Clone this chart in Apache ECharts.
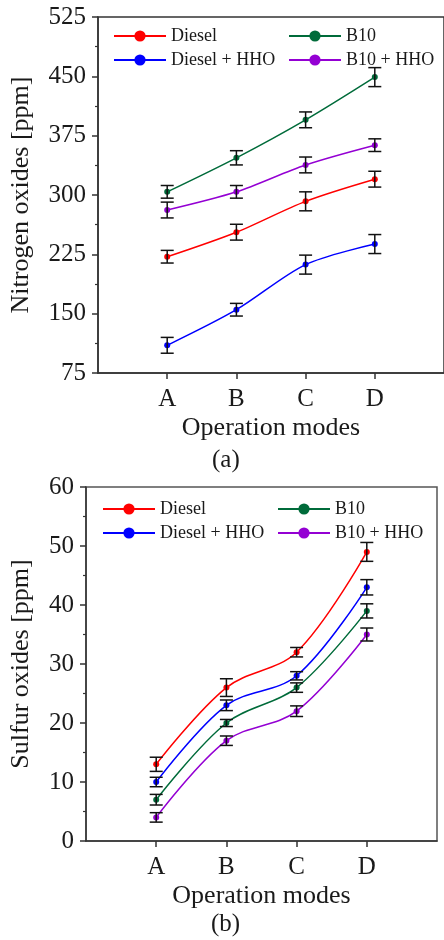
<!DOCTYPE html>
<html>
<head>
<meta charset="utf-8">
<script src="https://cdn.jsdelivr.net/npm/echarts@6/dist/echarts.min.js"></script>
<style>
  html, body { margin: 0; padding: 0; background: #fff; }
  #grafica { width: 444px; height: 940px; }
</style>
</head>
<body>
<div id="grafica"></div>
<script>
// categorias del eje x
var categorias = ['A', 'B', 'C', 'D'];
var nombres = ['Diesel', 'B10', 'Diesel + HHO', 'B10 + HHO'];
var colores = ['#ff0000', '#006b3a', '#0000ff', '#9400d3'];

// (a) oxidos de nitrogeno
var noxDiesel = [222, 253, 292, 320];
var noxDieselErr = [8, 10, 12, 10];
var noxB10 = [304, 347, 395, 449];
var noxB10Err = [8, 9, 10, 12];
var noxDieselHHO = [110, 155, 212, 238];
var noxDieselHHOErr = [10, 8, 12, 12];
var noxB10HHO = [281, 304, 338, 363];
var noxB10HHOErr = [10, 8, 10, 8];
var noxTicks = [75, 150, 225, 300, 375, 450, 525];

// (b) oxidos de azufre
var soxDiesel = [13, 26, 32, 49];
var soxDieselErr = [1.2, 1.5, 0.8, 1.6];
var soxB10 = [7, 20, 26, 39];
var soxB10Err = [0.9, 0.6, 0.8, 1.2];
var soxDieselHHO = [10, 23, 28, 43];
var soxDieselHHOErr = [0.8, 0.9, 0.7, 1.3];
var soxB10HHO = [4, 17, 22, 35];
var soxB10HHOErr = [0.8, 0.8, 0.9, 1.1];
var soxTicks = [0, 10, 20, 30, 40, 50, 60];

var fuente = "'Liberation Serif', 'Times New Roman', serif";
var negro = '#1a1a1a';

function puntos(valores) {
    return valores.map(function (v, i) { return [i + 1, v]; });
}

function barras(valores, errores) {
    return valores.map(function (v, i) { return [i + 1, v, errores[i]]; });
}

//barra de error con sus topes
function dibujarError(params, api) {
    var x = api.value(0), y = api.value(1), e = api.value(2);
    var arriba = api.coord([x, y + e]);
    var abajo = api.coord([x, y - e]);
    var w = 6.5;
    var estilo = { stroke: '#111', lineWidth: 1.5 };
    return {
        type: 'group',
        children: [
            { type: 'line', shape: { x1: arriba[0], y1: arriba[1], x2: abajo[0], y2: abajo[1] }, style: estilo },
            { type: 'line', shape: { x1: arriba[0] - w, y1: arriba[1], x2: arriba[0] + w, y2: arriba[1] }, style: estilo },
            { type: 'line', shape: { x1: abajo[0] - w, y1: abajo[1], x2: abajo[0] + w, y2: abajo[1] }, style: estilo }
        ]
    };
}

function ejeX(idx, margen, hueco) {
    return {
        type: 'value', gridIndex: idx, min: 0, max: 5,
        name: 'Operation modes', nameLocation: 'middle', nameGap: hueco,
        nameTextStyle: { fontFamily: fuente, fontSize: 26, color: negro },
        axisLine: { show: true, onZero: false, lineStyle: { color: '#333', width: 1.5 } },
        axisTick: { show: true, length: 6, customValues: [1, 2, 3, 4], lineStyle: { color: '#333', width: 1.5 } },
        axisLabel: {
            customValues: [1, 2, 3, 4], margin: margen,
            fontFamily: fuente, fontSize: 25, color: negro,
            formatter: function (v) { return categorias[v - 1] || ''; }
        },
        splitLine: { show: false }
    };
}

function ejeY(idx, ticks, titulo, hueco) {
    return {
        type: 'value', gridIndex: idx,
        min: ticks[0], max: ticks[ticks.length - 1], interval: ticks[1] - ticks[0],
        name: titulo, nameLocation: 'middle', nameGap: hueco, nameRotate: 90,
        nameTextStyle: { fontFamily: fuente, fontSize: 26, color: negro },
        axisLine: { show: true, lineStyle: { color: '#333', width: 1.5 } },
        axisTick: { show: true, length: 6, lineStyle: { color: '#333', width: 1.5 } },
        minorTick: { show: true, splitNumber: 2, length: 3, lineStyle: { color: '#333', width: 1.2 } },
        axisLabel: { margin: 12, fontFamily: fuente, fontSize: 25, color: negro },
        splitLine: { show: false }
    };
}

function leyenda(datos, left, top) {
    return {
        data: datos, orient: 'vertical', left: left, top: top,
        itemWidth: 52, itemHeight: 14, itemGap: 6,
        textStyle: { fontFamily: fuente, fontSize: 18, color: negro }
    };
}

var series = [];
function agregar(grid, listas, errores, suave) {
    listas.forEach(function (valores, k) {
        series.push({
            name: nombres[k], type: 'line', xAxisIndex: grid, yAxisIndex: grid,
            data: puntos(valores), smooth: suave,
            symbol: 'circle', symbolSize: 6,
            lineStyle: { color: colores[k], width: 1.5 },
            itemStyle: { color: colores[k] }
        });
        series.push({
            type: 'custom', xAxisIndex: grid, yAxisIndex: grid, z: 5,
            renderItem: dibujarError, data: barras(valores, errores[k]),
            silent: true
        });
    });
}

agregar(0, [noxDiesel, noxB10, noxDieselHHO, noxB10HHO],
    [noxDieselErr, noxB10Err, noxDieselHHOErr, noxB10HHOErr], 0.3);
agregar(1, [soxDiesel, soxB10, soxDieselHHO, soxB10HHO],
    [soxDieselErr, soxB10Err, soxDieselHHOErr, soxB10HHOErr], 0.35);

var option = {
    animation: false,
    backgroundColor: '#fff',
    color: colores,
    grid: [
        { left: 90, top: 17, width: 356, height: 356, show: true, borderColor: '#333', borderWidth: 1.5, containLabel: false },
        { left: 83, top: 487, width: 354, height: 354, show: true, borderColor: '#555', borderWidth: 1.5, containLabel: false }
    ],
    legend: [
        leyenda(['Diesel', 'Diesel + HHO'], 108, 22),
        leyenda(['B10', 'B10 + HHO'], 283, 22),
        leyenda(['Diesel', 'Diesel + HHO'], 97, 495),
        leyenda(['B10', 'B10 + HHO'], 272, 495)
    ],
    xAxis: [ejeX(0, 14, 42), ejeX(1, 14, 42)],
    yAxis: [
        ejeY(0, noxTicks, 'Nitrogen oxides [ppm]', 64),
        ejeY(1, soxTicks, 'Sulfur oxides [ppm]', 52)
    ],
    graphic: [
        { type: 'text', left: 212, top: 448, style: { text: '(a)', font: "25px 'Liberation Serif', serif", fill: negro } },
        { type: 'text', left: 211, top: 912, style: { text: '(b)', font: "25px 'Liberation Serif', serif", fill: negro } }
    ],
    series: series
};

var grafico = echarts.init(document.getElementById('grafica'));
grafico.setOption(option);
</script>
</body>
</html>
